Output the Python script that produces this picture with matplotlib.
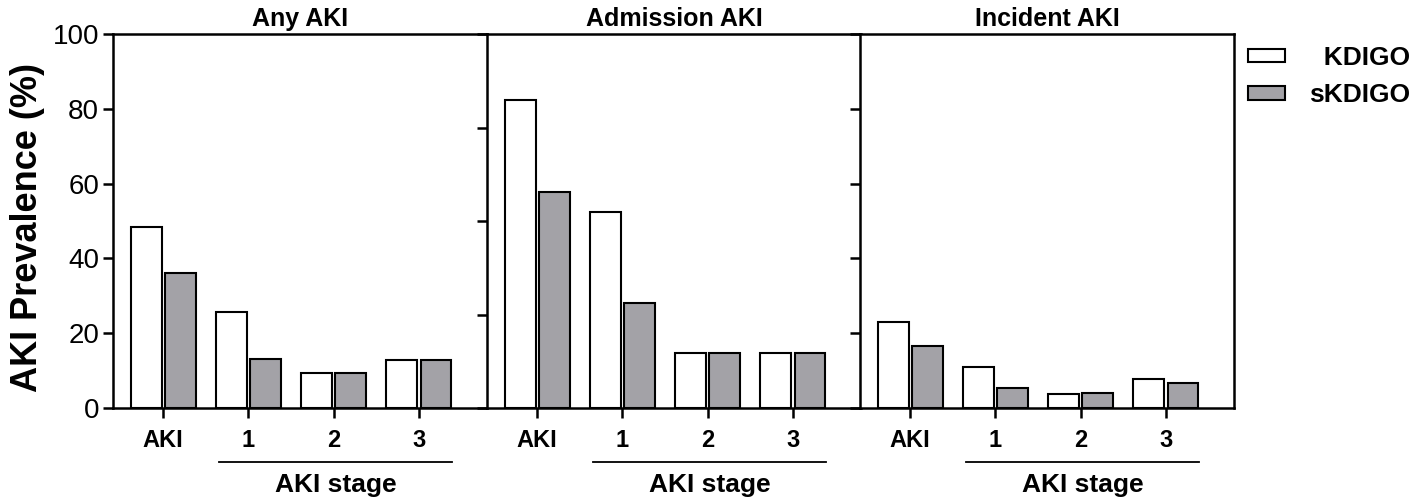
import matplotlib.pyplot as plt
import matplotlib.transforms as mtransforms
import numpy as np

plt.rcParams['font.family'] = ['Liberation Sans', 'DejaVu Sans']

groups = ['AKI', '1', '2', '3']
panel_titles = ['Any AKI', 'Admission AKI', 'Incident AKI']

any_kdigo = [48.5, 25.7, 9.4, 12.8]
any_skdigo = [36.0, 13.2, 9.4, 12.8]
adm_kdigo = [82.3, 52.5, 14.7, 14.7]
adm_skdigo = [57.7, 28.2, 14.7, 14.7]
inc_kdigo = [23.1, 11.0, 3.7, 7.8]
inc_skdigo = [16.6, 5.3, 3.9, 6.8]

panel_ticks = [[0, 20, 40, 60, 80, 100], [0, 25, 50, 75, 100], [0, 20, 40, 60, 80, 100]]

kdigo_sets = [any_kdigo, adm_kdigo, inc_kdigo]
skdigo_sets = [any_skdigo, adm_skdigo, inc_skdigo]

W, H = 1422, 500
fig = plt.figure(figsize=(W / 100, H / 100), dpi=100)

lefts = [113, 487, 860]
width = 374
top, bottom = 34, 408
gray = '#a3a2a7'

x = np.arange(len(groups))
for i in range(3):
    ax = fig.add_axes([lefts[i] / W, 1 - bottom / H, width / W, (bottom - top) / H])
    ax.bar(x - 0.2, kdigo_sets[i], 0.36, color='white', edgecolor='black', linewidth=1.5, label='  KDIGO')
    ax.bar(x + 0.2, skdigo_sets[i], 0.36, color=gray, edgecolor='black', linewidth=1.5, label='sKDIGO')
    ax.set_xlim(-0.59, 3.80)
    ax.set_ylim(0, 100)
    ax.set_yticks(panel_ticks[i])
    if i > 0:
        ax.set_yticklabels([])
    ax.set_xticks(x)
    ax.set_xticklabels(groups, fontsize=17, fontweight='bold')
    ax.tick_params(axis='both', direction='out', length=7, width=1.8)
    ax.tick_params(axis='x', pad=8)
    ax.tick_params(axis='y', labelsize=20, pad=3)
    for sp in ax.spines.values():
        sp.set_linewidth(1.8)
    if i < 2:
        ax.spines['right'].set_visible(False)
    ax.set_title(panel_titles[i], fontsize=18, fontweight='bold', pad=6)

    trans = mtransforms.blended_transform_factory(ax.transData, ax.transAxes)
    ax.plot([0.66, 3.39], [-0.144, -0.144], transform=trans, clip_on=False, color='black', linewidth=1.3)
    ax.text(2.02, -0.206, 'AKI stage', transform=trans, ha='center', va='center',
            fontsize=19, fontweight='bold')

    if i == 2:
        ax.legend(loc='upper left', bbox_to_anchor=(1248 / W, 1 - 46 / H),
                  bbox_transform=fig.transFigure, frameon=False,
                  prop={'weight': 'bold', 'size': 19}, borderpad=0, borderaxespad=0,
                  handlelength=1.4, handleheight=0.42, handletextpad=0.9, labelspacing=0.5)

fig.text(28 / W, 1 - 227 / H, 'AKI Prevalence (%)', rotation=90, ha='center', va='center',
         fontsize=26, fontweight='bold')

fig.savefig('out.png', dpi=100)
